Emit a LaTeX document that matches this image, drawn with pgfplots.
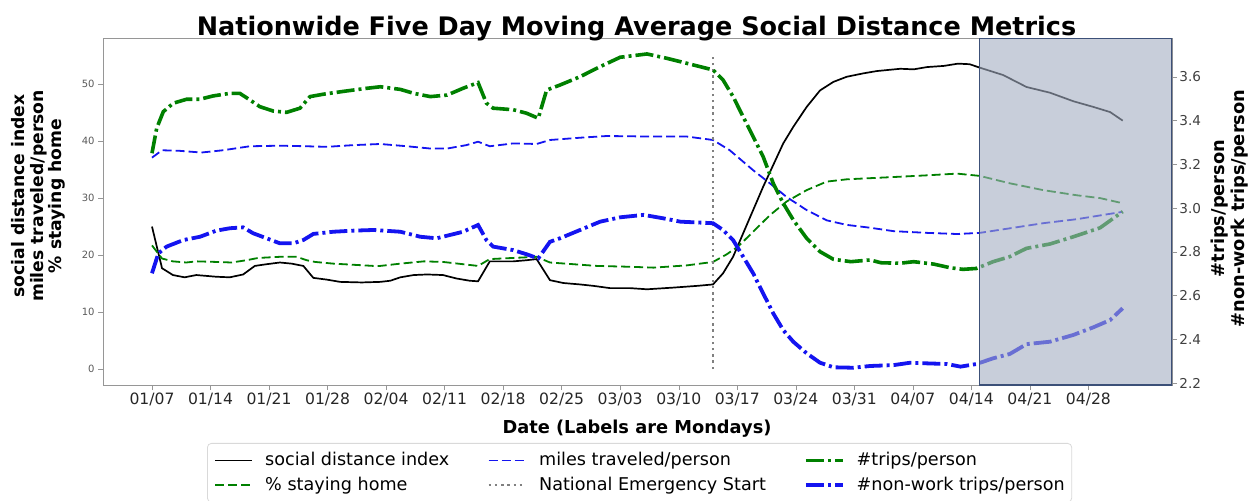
\documentclass[border=0pt]{standalone}
\usepackage{fontspec}
\setmainfont{DejaVu Sans}
\usepackage{pgfplots}
\pgfplotsset{compat=1.18}
\definecolor{mplgreen}{RGB}{0,128,0}
\definecolor{mplblue}{RGB}{20,20,240}
\definecolor{shade}{RGB}{163,173,193}
\definecolor{shadeedge}{RGB}{60,80,120}
\definecolor{spine}{RGB}{150,150,150}
\tikzset{
  sdi/.style={black, line width=0.85pt},
  home/.style={mplgreen, line width=0.9pt, dash pattern=on 4.5pt off 2pt},
  miles/.style={mplblue, line width=0.9pt, dash pattern=on 4.5pt off 2pt},
  nes/.style={gray, line width=1.4pt, dash pattern=on 1.2pt off 1.9pt},
  trips/.style={mplgreen, line width=1.8pt, dash pattern=on 9pt off 2pt on 1.5pt off 2pt},
  nonwork/.style={mplblue, line width=1.9pt, dash pattern=on 9pt off 2pt on 1.5pt off 2pt},
}
\begin{document}
\begin{tikzpicture}[x=1pt,y=1pt]
\path[use as bounding box] (-51.5,-57.5) rectangle (574,192.5);
\begin{axis}[
  at={(0,0)}, anchor=south west,
  width=534.5pt, height=173.5pt, scale only axis,
  xmin=-5.86, xmax=122, ymin=-2.8, ymax=58.1,
  axis line style={spine},
  tick align=outside, major tick length=2.5pt,
  tick style={spine},
  xtick pos=bottom, ytick pos=left,
  xtick={0,7,...,112},
  xticklabels={01/07,01/14,01/21,01/28,02/04,02/11,02/18,02/25,03/03,03/10,03/17,03/24,03/31,04/07,04/14,04/21,04/28},
  ytick={0,10,...,50},
  /pgf/number format/assume math mode=true,
  xticklabel style={font=\fontsize{7.8}{9}\selectfont, text=black!85, inner sep=0pt, yshift=-1.5pt},
  yticklabel style={font=\fontsize{5}{6}\selectfont, text=black!65, inner sep=0pt, xshift=-1.5pt},
  legend columns=3,
  legend cell align=left,
  legend image code/.code={\draw[#1] (0pt,0pt) -- (18.5pt,0pt);},
  legend style={
    at={(0.0973,-0.1671)}, anchor=north west,
    draw=black!15, rounded corners=2pt, fill=white,
    inner xsep=3.5pt, inner ysep=4.5pt, row sep=4pt,
    font=\fontsize{8.8}{10}\selectfont,
    nodes={inner sep=0pt},
    /tikz/every odd column/.append style={column sep=6pt},
    /tikz/every even column/.append style={column sep=19pt},
  },
]
\addlegendimage{sdi}
\addlegendimage{miles}
\addlegendimage{trips}
\addlegendimage{home}
\addlegendimage{nes}
\addlegendimage{nonwork}
\legend{social distance index, miles traveled/person, \#trips/person, \% staying home, National Emergency Start, \#non-work trips/person}
% social distance index
\addplot[sdi, forget plot] coordinates {
(0,25.0) (1.2,17.7) (2.5,16.5) (3.9,16.1) (5.3,16.5) (7.7,16.2) (9.3,16.1) (10.9,16.6)
(12.3,18.1) (13.7,18.4) (15.3,18.7) (16.7,18.5) (18.1,18.1) (19.3,16.0) (20.9,15.7)
(22.5,15.3) (25.1,15.2) (27.3,15.3) (28.5,15.5) (29.7,16.1) (31.3,16.5) (32.9,16.6)
(34.8,16.5) (36.4,15.9) (38,15.5) (39,15.4) (40.4,18.9) (43.2,18.9) (44.8,19.1) (46,19.3)
(47.6,15.6) (49.2,15.1) (51.2,14.85) (52.8,14.6) (54.8,14.2) (57.2,14.2) (59.2,14.0)
(62.4,14.3) (65.2,14.6) (67.1,14.85) (68.3,16.8) (69.5,19.7) (70.7,23.8) (71.9,27.9)
(73.1,32.0) (74.3,35.8) (75.5,39.6) (76.7,42.5) (78.3,46.0) (79.9,48.9) (81.5,50.4)
(83.1,51.3) (85.1,51.9) (86.7,52.3) (89.5,52.7) (91.1,52.6) (92.7,53.0) (94.7,53.2)
(96.4,53.6) (97.8,53.5) (99,52.9) (101.8,51.6) (104.6,49.5) (107.4,48.5) (110.2,47.0)
(112.6,46.0) (114.6,45.1) (116.1,43.6)
};
% % staying home
\addplot[home, forget plot] coordinates {
(0,21.7) (1.2,19.4) (2.5,18.9) (4.1,18.7) (5.3,18.9) (7.7,18.8) (9.5,18.7) (11.3,19.1)
(12.7,19.5) (15.3,19.7) (17.3,19.7) (18.5,19.1) (19.5,18.8) (21.7,18.5) (24.1,18.3)
(26.5,18.1) (27.3,18.1) (29.7,18.5) (32.5,18.9) (34.8,18.8) (37.2,18.4) (39,18.1)
(40.4,19.3) (43.2,19.5) (46,19.7) (47.6,18.7) (50.4,18.4) (53.2,18.1) (57.2,17.95)
(60,17.8) (64,18.2) (67.1,18.8) (68.7,20.1) (70.1,21.5) (71.9,24.1) (73.9,27.0)
(75.9,29.4) (78.3,31.4) (80.7,32.9) (83.1,33.3) (85.9,33.5) (88.7,33.7) (92.7,34.0)
(96.3,34.3) (99,33.9) (102.6,32.6) (106.6,31.4) (110.6,30.5) (113.4,30.0) (116.1,29.1)
};
% miles traveled/person
\addplot[miles, forget plot] coordinates {
(0,37.1) (1.2,38.4) (3.3,38.3) (5.9,38.0) (8.5,38.4) (11.7,39.1) (15.3,39.2) (18.5,39.1)
(20.9,39.0) (24.1,39.3) (27.3,39.5) (30.5,39.1) (33.3,38.7) (35.3,38.7) (37.6,39.3)
(39,39.9) (40.4,39.1) (43.2,39.6) (46,39.5) (47.6,40.2) (51.2,40.6) (54.4,40.9)
(60,40.8) (64,40.8) (67.1,40.2) (69.1,38.4) (71.9,34.9) (73.9,32.6) (75.9,30.2)
(78.3,27.9) (80.7,26.1) (83.1,25.3) (85.9,24.8) (88.7,24.2) (92.7,23.9) (96.3,23.7)
(99,23.9) (102.6,24.7) (106.6,25.6) (110.6,26.3) (116.1,27.6)
};
% National Emergency Start
\addplot[nes, forget plot] coordinates {(67.1,0) (67.1,55)};
\end{axis}
\begin{axis}[
  at={(0,0)}, anchor=south west,
  width=534.5pt, height=173.5pt, scale only axis,
  xmin=-5.86, xmax=122, ymin=2.191, ymax=3.778,
  axis x line=none, axis y line*=right,
  axis line style={spine},
  tick align=outside, major tick length=2.5pt,
  tick style={spine},
  ytick={2.2,2.4,...,3.61},
  /pgf/number format/assume math mode=true,
  /pgf/number format/.cd, fixed, fixed zerofill, precision=1, /pgfplots/.cd,
  yticklabel style={font=\fontsize{6.8}{8}\selectfont, text=black!75, inner sep=0pt, xshift=1pt},
]
% #trips/person
\addplot[trips] coordinates {
(0,3.251) (0.56,3.365) (1.35,3.441) (2.55,3.480) (4.15,3.498) (5.74,3.498) (7.3,3.513)
(9.33,3.525) (10.5,3.525) (11.7,3.495) (12.9,3.464) (14.5,3.444) (16.1,3.438)
(17.7,3.457) (18.9,3.510) (20.5,3.521) (23.3,3.536) (25.7,3.548) (27.3,3.555)
(29.7,3.543) (31.3,3.525) (33.3,3.510) (35.3,3.517) (37.2,3.548) (39,3.574) (40,3.480)
(40.8,3.457) (43.2,3.450) (44.8,3.434) (46.2,3.411) (47.2,3.540) (48.8,3.563)
(51.2,3.601) (53.6,3.647) (56,3.690) (59.2,3.705) (61.6,3.685) (64,3.662) (67.1,3.632)
(68.3,3.586) (69.5,3.510) (70.7,3.418) (71.9,3.327) (73.1,3.235) (74.3,3.114)
(75.5,3.022) (76.7,2.946) (78.3,2.862) (79.9,2.801) (81.5,2.766) (83.6,2.755)
(85.9,2.763) (87.2,2.750) (89.5,2.748) (91.1,2.755) (93.5,2.744) (95.5,2.727)
(97,2.720) (98.6,2.724) (100.6,2.755) (102.6,2.778) (104.6,2.816) (107.4,2.836)
(110.2,2.869) (113.4,2.910) (116.1,2.984)
};
% #non-work trips/person
\addplot[nonwork] coordinates {
(0,2.702) (0.76,2.793) (1.75,2.824) (3.75,2.854) (5.74,2.869) (7.7,2.897) (9.33,2.908)
(10.9,2.912) (12.1,2.885) (13.7,2.862) (15.3,2.839) (16.9,2.839) (18.1,2.854)
(19.3,2.882) (21.7,2.892) (24.1,2.897) (26.5,2.900) (29.7,2.892) (32.1,2.869)
(34.05,2.862) (37.2,2.892) (39,2.923) (40,2.854) (40.8,2.824) (43.2,2.808) (44.8,2.789)
(46.2,2.770) (47.6,2.846) (48.8,2.862) (51.2,2.900) (53.6,2.938) (56,2.958) (58.8,2.969)
(61.2,2.953) (63.2,2.938) (66,2.933) (67.1,2.931) (68.3,2.900) (69.5,2.854) (70.7,2.778)
(71.9,2.702) (73.1,2.610) (74.3,2.519) (75.5,2.442) (76.7,2.389) (78.3,2.336)
(79.9,2.293) (81.5,2.272) (83.9,2.270) (85.9,2.278) (88.7,2.282) (90.7,2.293)
(92.7,2.290) (95.1,2.287) (96.7,2.275) (98.6,2.287) (100.6,2.313) (102.6,2.333)
(104.6,2.378) (107.4,2.389) (110.2,2.420) (112.6,2.455) (114.6,2.488) (116.1,2.542)
};
\draw[fill=shade, fill opacity=0.6, draw=shadeedge, line width=0.7pt]
  (axis cs:99,2.191) rectangle (axis cs:122,3.778);
\end{axis}
\node[anchor=base, font=\bfseries\fontsize{12.75}{14}\selectfont] at (266.75,175) {Nationwide Five Day Moving Average Social Distance Metrics};
\node[anchor=base, font=\bfseries\fontsize{8.9}{10}\selectfont] at (267,-24) {Date (Labels are Mondays)};
\node[rotate=90, align=center, font=\bfseries\fontsize{8.6}{9.2}\selectfont] at (-32.25,94.5) {social distance index\\miles traveled/person\\\% staying home};
\node[rotate=90, align=center, font=\bfseries\fontsize{8.9}{10}\selectfont] at (563.5,88.25) {\#trips/person\\\#non-work trips/person};
\end{tikzpicture}
\end{document}
